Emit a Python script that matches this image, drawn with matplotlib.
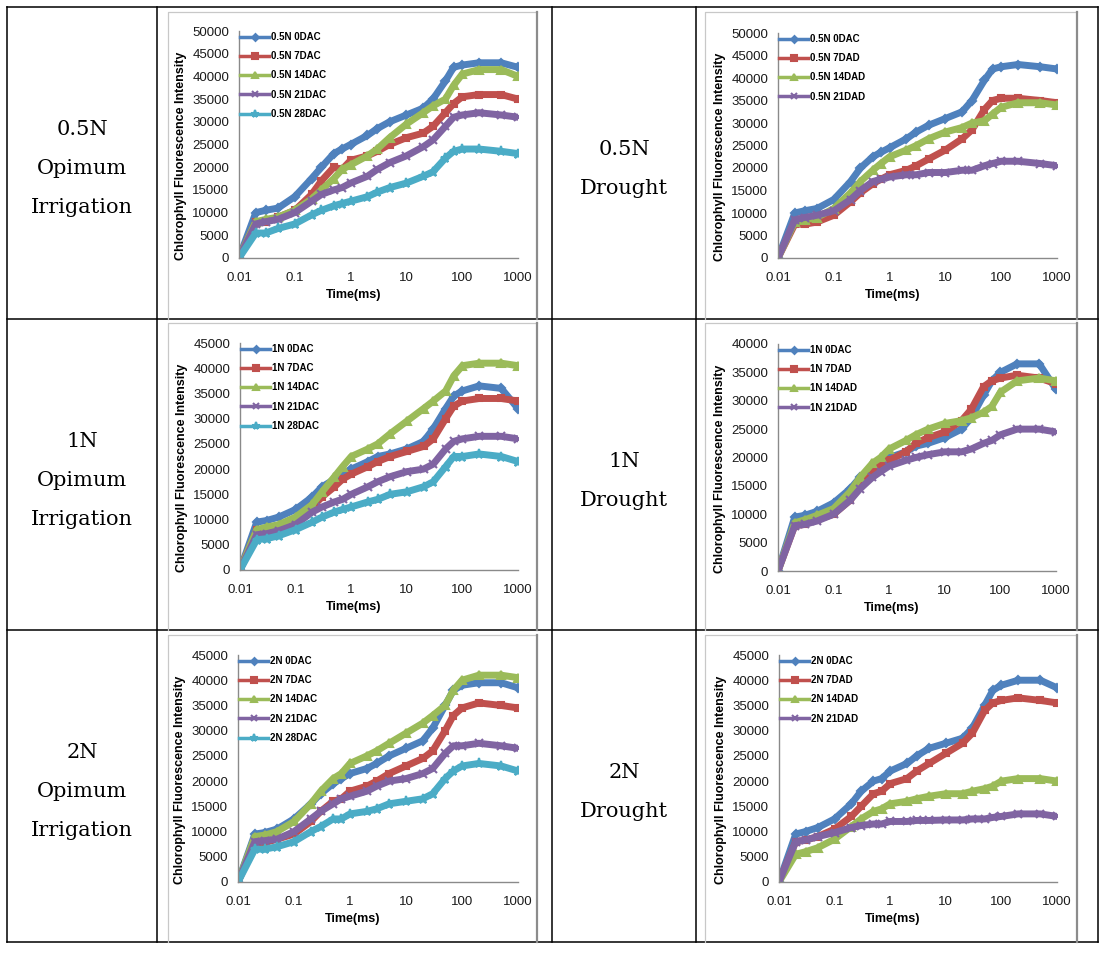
import matplotlib.pyplot as plt
from matplotlib import font_manager
from matplotlib.lines import Line2D

# time axis (ms) shared by every curve
t_ms = [0.01, 0.02, 0.03, 0.05, 0.1, 0.2, 0.3, 0.5, 0.7, 1, 2, 3, 5, 10,
        20, 30, 50, 70, 100, 200, 500, 1000]

# 0.5N optimum irrigation
n05_opt_0dac = [0, 10000, 10500, 11000, 13500, 17500, 20000, 23000, 24000, 25000, 27000, 28500, 30000, 31500, 33000, 35000, 39000, 42000, 42500, 43000, 43000, 42000]
n05_opt_7dac = [0, 8000, 8000, 9000, 10500, 14000, 17000, 20000, 19500, 21500, 22500, 23500, 25000, 26500, 27500, 29000, 32000, 34000, 35500, 36000, 36000, 35000]
n05_opt_14dac = [0, 8000, 8500, 9000, 10500, 13000, 15000, 17500, 19500, 20500, 22500, 24000, 26500, 29500, 32000, 33500, 35000, 38000, 40500, 41500, 41500, 40000]
n05_opt_21dac = [0, 7500, 8000, 8500, 10000, 12500, 14000, 15000, 15500, 16500, 18000, 19500, 21000, 22500, 24500, 26000, 29000, 31000, 31500, 32000, 31500, 31000]
n05_opt_28dac = [0, 5500, 5500, 6500, 7500, 9500, 10500, 11500, 12000, 12500, 13500, 14500, 15500, 16500, 18000, 19000, 22000, 23500, 24000, 24000, 23500, 23000]

# 0.5N drought
n05_dr_0dac = [0, 10000, 10500, 11000, 13000, 17000, 20000, 22500, 23500, 24500, 26500, 28000, 29500, 31000, 32500, 35000, 39500, 42000, 42500, 43000, 42500, 42000]
n05_dr_7dad = [0, 7500, 7500, 8000, 9500, 12500, 14500, 16500, 17500, 18500, 19500, 20500, 22000, 24000, 26500, 28500, 33000, 35000, 35500, 35500, 35000, 34500]
n05_dr_14dad = [0, 8000, 8500, 9000, 11000, 14500, 17000, 19500, 21000, 22500, 24000, 25000, 26500, 28000, 29000, 30000, 30500, 32000, 33500, 34500, 34500, 34000]
n05_dr_21dad = [0, 8500, 9000, 9500, 10500, 13000, 15000, 17000, 17500, 18000, 18500, 18500, 19000, 19000, 19500, 19500, 20500, 21000, 21500, 21500, 21000, 20500]

# 1N optimum irrigation
n1_opt_0dac = [0, 9500, 9800, 10500, 12000, 14500, 16500, 18000, 19000, 20000, 21500, 22500, 23000, 24000, 25500, 28000, 32000, 34500, 35500, 36500, 36000, 32000]
n1_opt_7dac = [0, 8000, 8000, 8500, 10000, 12500, 14500, 16500, 18000, 19000, 20500, 21500, 22500, 23500, 24500, 26000, 30000, 32500, 33500, 34000, 34000, 33500]
n1_opt_14dac = [0, 8000, 8500, 9000, 10500, 13000, 15500, 18500, 20500, 22500, 24000, 25000, 27000, 29500, 32000, 33500, 35500, 38500, 40500, 41000, 41000, 40500]
n1_opt_21dac = [0, 7000, 7200, 7800, 9000, 11500, 12500, 13500, 14000, 15000, 16500, 17500, 18500, 19500, 20000, 21000, 24000, 25500, 26000, 26500, 26500, 26000]
n1_opt_28dac = [0, 6000, 6200, 6800, 8000, 9500, 10500, 11500, 12000, 12500, 13500, 14000, 15000, 15500, 16500, 17500, 20500, 22500, 22500, 23000, 22500, 21500]

# 1N drought
n1_dr_0dac = [0, 9500, 9800, 10500, 12000, 14500, 16500, 18000, 19000, 20000, 21000, 22000, 22500, 23500, 25000, 27000, 31000, 33500, 35000, 36500, 36500, 32000]
n1_dr_7dad = [0, 8000, 8200, 9000, 10000, 12500, 15000, 17500, 19000, 19500, 21000, 22500, 23500, 24500, 26500, 28500, 32500, 33500, 34000, 34500, 34000, 33000]
n1_dr_14dad = [0, 8500, 9000, 9800, 11000, 14000, 16500, 19000, 20000, 21500, 23000, 24000, 25000, 26000, 26500, 27000, 28000, 29000, 31500, 33500, 34000, 33500]
n1_dr_21dad = [0, 8000, 8200, 8800, 10000, 12500, 14500, 16500, 17500, 18500, 19500, 20000, 20500, 21000, 21000, 21500, 22500, 23000, 24000, 25000, 25000, 24500]

# 2N optimum irrigation
n2_opt_0dac = [0, 9500, 9800, 10500, 12500, 15500, 17500, 19500, 20500, 21500, 22500, 23500, 25000, 26500, 28000, 30500, 35000, 38000, 39000, 39500, 39500, 38500]
n2_opt_7dac = [0, 7500, 7800, 8500, 9500, 12000, 14000, 16000, 16500, 18000, 19000, 20000, 21500, 23000, 24500, 26000, 30000, 33000, 34500, 35500, 35000, 34500]
n2_opt_14dac = [0, 9000, 9300, 10000, 12000, 15500, 18000, 20500, 21500, 23500, 25000, 26000, 27500, 29500, 31500, 33000, 35000, 38000, 40000, 41000, 41000, 40500]
n2_opt_21dac = [0, 8000, 8200, 8500, 10000, 12500, 14000, 15500, 16500, 17000, 18000, 19000, 20000, 20500, 21500, 22500, 25500, 27000, 27000, 27500, 27000, 26500]
n2_opt_28dac = [0, 6500, 6500, 7000, 8000, 10000, 11000, 12500, 12500, 13500, 14000, 14500, 15500, 16000, 16500, 17500, 20500, 22000, 23000, 23500, 23000, 22000]

# 2N drought
n2_dr_0dac = [0, 9500, 10000, 10800, 12500, 15500, 18000, 20000, 20500, 22000, 23500, 25000, 26500, 27500, 28500, 30500, 35000, 38000, 39000, 40000, 40000, 38500]
n2_dr_7dad = [0, 8000, 8300, 9000, 10500, 13000, 15000, 17500, 18000, 19500, 20500, 22000, 23500, 25500, 27500, 29500, 34000, 35500, 36000, 36500, 36000, 35500]
n2_dr_14dad = [0, 5500, 6000, 6800, 8500, 11000, 12500, 14000, 14500, 15500, 16000, 16500, 17000, 17500, 17500, 18000, 18500, 19000, 20000, 20500, 20500, 20000]
n2_dr_21dad = [0, 8000, 8300, 9000, 9800, 10800, 11200, 11500, 11500, 12000, 12000, 12200, 12200, 12300, 12300, 12500, 12500, 12800, 13000, 13500, 13500, 13000]

row_names = ["0.5N", "1N", "2N"]
row_centers = [163, 475, 786]

W, H = 1108, 956
C_BLUE, C_RED, C_GREEN, C_PURPLE, C_CYAN = "#4F81BD", "#C0504D", "#9BBB59", "#8064A2", "#4BACC6"
styles = [(C_BLUE, "D", 3.5), (C_RED, "s", 4.0), (C_GREEN, "^", 4.5), (C_PURPLE, "x", 4.5), (C_CYAN, "*", 5.5)]

panels = [
    # (series, labels, ymax, plot box in px, image frame in px)
    ([n05_opt_0dac, n05_opt_7dac, n05_opt_14dac, n05_opt_21dac, n05_opt_28dac],
     ["0.5N 0DAC", "0.5N 7DAC", "0.5N 14DAC", "0.5N 21DAC", "0.5N 28DAC"],
     50000, (239, 31, 518, 258), (168, 12, 537, 319)),
    ([n05_dr_0dac, n05_dr_7dad, n05_dr_14dad, n05_dr_21dad],
     ["0.5N 0DAC", "0.5N 7DAD", "0.5N 14DAD", "0.5N 21DAD"],
     50000, (778, 33, 1057, 258), (705, 12, 1077, 319)),
    ([n1_opt_0dac, n1_opt_7dac, n1_opt_14dac, n1_opt_21dac, n1_opt_28dac],
     ["1N 0DAC", "1N 7DAC", "1N 14DAC", "1N 21DAC", "1N 28DAC"],
     45000, (240, 343, 518, 570), (168, 323, 537, 630)),
    ([n1_dr_0dac, n1_dr_7dad, n1_dr_14dad, n1_dr_21dad],
     ["1N 0DAC", "1N 7DAD", "1N 14DAD", "1N 21DAD"],
     40000, (778, 344, 1056, 571), (705, 323, 1077, 630)),
    ([n2_opt_0dac, n2_opt_7dac, n2_opt_14dac, n2_opt_21dac, n2_opt_28dac],
     ["2N 0DAC", "2N 7DAC", "2N 14DAC", "2N 21DAC", "2N 28DAC"],
     45000, (238, 655, 518, 882), (168, 635, 537, 942)),
    ([n2_dr_0dac, n2_dr_7dad, n2_dr_14dad, n2_dr_21dad],
     ["2N 0DAC", "2N 7DAD", "2N 14DAD", "2N 21DAD"],
     45000, (779, 655, 1057, 882), (705, 635, 1077, 942)),
]

# a narrow face for the legend if one is around
narrow = "Liberation Sans"
for f in font_manager.fontManager.ttflist:
    if f.name == "Liberation Sans Narrow":
        narrow = f.name
        break


def fx(x):
    return x / W


def fy(y):
    return 1 - y / H


fig = plt.figure(figsize=(W / 100, H / 100), dpi=100)

# table grid
for x in [7, 157, 552, 696, 1098]:
    fig.add_artist(Line2D([fx(x), fx(x)], [fy(7), fy(942)], color="black", lw=1.1))
for y in [7, 319, 630, 942]:
    fig.add_artist(Line2D([fx(7), fx(1098)], [fy(y), fy(y)], color="black", lw=1.1))

# row labels
for name, cy in zip(row_names, row_centers):
    for txt, dy in zip([name, "Opimum", "Irrigation"], [-28, 11, 50]):
        fig.text(fx(82), fy(cy + dy), txt, ha="center", va="baseline",
                 family="DejaVu Serif", fontsize=15)
    for txt, dy in zip([name, "Drought"], [-8, 31]):
        fig.text(fx(624), fy(cy + dy), txt, ha="center", va="baseline",
                 family="DejaVu Serif", fontsize=15)

for series, labels, ymax, (x0, y0, x1, y1), (fx0, fy0, fx1, fy1) in panels:
    # grey frame of the pasted chart image
    fig.add_artist(Line2D([fx(fx0), fx(fx0), fx(fx1)], [fy(fy1), fy(fy0), fy(fy0)],
                          color="#c8c8c8", lw=0.9))
    fig.add_artist(Line2D([fx(fx1), fx(fx1)], [fy(fy0), fy(fy1)], color="#8c8c8c", lw=1.6))

    ax = fig.add_axes([fx(x0), fy(y1), (x1 - x0) / W, (y1 - y0) / H])
    handles = []
    for vals, lab, (col, mk, ms) in zip(series, labels, styles):
        ax.plot(t_ms, vals, color=col, lw=5.0, solid_joinstyle="round", solid_capstyle="round",
                marker=mk, ms=ms + 1, mew=1.5, mec=col, mfc=col)
        handles.append(Line2D([], [], color=col, lw=2.5, marker=mk, ms=ms, mew=1.5, mec=col, mfc=col, label=lab))

    ax.set_xscale("log")
    ax.set_xlim(0.01, 1000)
    ax.set_ylim(0, ymax)
    ax.set_xticks([0.01, 0.1, 1, 10, 100, 1000])
    ax.set_xticklabels(["0.01", "0.1", "1", "10", "100", "1000"])
    ax.set_yticks(range(0, ymax + 1, 5000))
    ax.minorticks_off()
    ax.tick_params(length=0, labelsize=9.5, colors="#1a1a1a", labelfontfamily="Liberation Sans")
    ax.tick_params(axis="y", pad=7)
    ax.tick_params(axis="x", pad=10)
    for s in ["top", "right"]:
        ax.spines[s].set_visible(False)
    for s in ["left", "bottom"]:
        ax.spines[s].set_color("#8a8a8a")
        ax.spines[s].set_linewidth(1.0)
    ax.patch.set_visible(False)

    ax.set_xlabel("Time(ms)", fontsize=9, fontweight="bold", family="Liberation Sans")
    ax.xaxis.set_label_coords(0.41, -31 / (y1 - y0))
    ax.set_ylabel("Chlorophyll Fluorescence Intensity", fontsize=9, fontweight="bold",
                  family="Liberation Sans")
    ax.yaxis.set_label_coords(-52 / (x1 - x0), 0.45)

    ax.legend(handles=handles, loc="upper left", bbox_to_anchor=(0.0, 1.0), frameon=False,
              borderpad=0.1, borderaxespad=0.0, handlelength=3.0, handletextpad=0.15,
              labelspacing=0.95, prop={"family": narrow, "weight": "bold", "size": 7})

fig.savefig("out.png", dpi=100)
plt.close(fig)
